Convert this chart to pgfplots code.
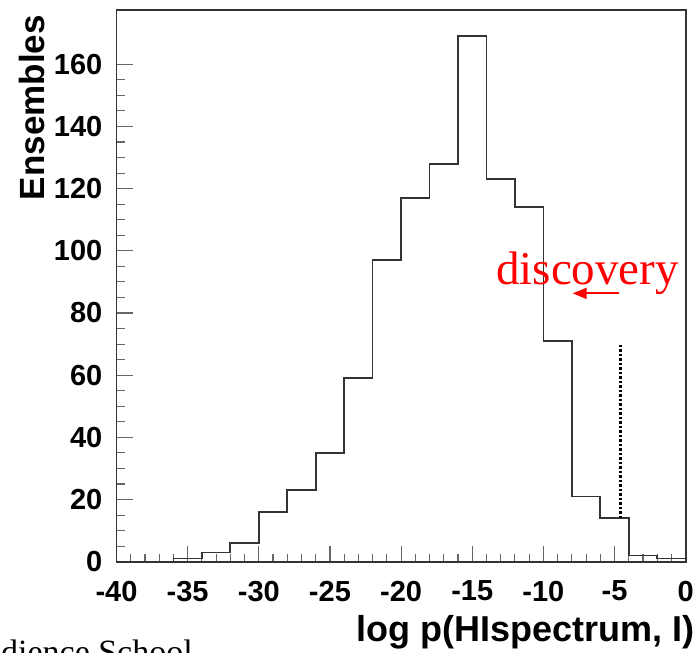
\documentclass[border=0pt]{standalone}
\usepackage{pgfplots}
\pgfplotsset{compat=1.18}
\usepackage{fontspec}
\setmainfont{Liberation Sans}
\newfontfamily\serif{Liberation Serif}
\usetikzlibrary{arrows.meta, calc}
\definecolor{frame}{HTML}{333333}

\begin{document}
\begin{tikzpicture}
\begin{axis}[
  name = ax,
  scale only axis,
  width = 569.2pt, height = 551.7pt,
  xmin = -40, xmax = 0,
  ymin = 0, ymax = 177.45,
  axis line style = {frame, line width=1.7pt},
  tick align = inside,
  xtick pos = bottom, ytick pos = left,
  xtick = {-40,-35,...,0},
  xticklabels = {-40,-35,-30,-25,-20,-15,-10,-5,0},
  ytick = {0,20,...,160},
  yticklabels = {0,20,40,60,80,100,120,140,160},
  minor x tick num = 4,
  minor y tick num = 3,
  major tick length = 16pt,
  minor tick length = 8pt,
  tick style = {gray!80!black, line width=1.1pt},
  ticklabel style = {font=\fontsize{29}{30}\selectfont\bfseries, inner sep=0pt},
  xticklabel style = {yshift=-19pt},
  yticklabel style = {xshift=-14pt},
  clip = false,
]
  % histogram, 2 units per bin, 1000 ensembles
  \addplot[const plot mark left, frame, line width=1.7pt] coordinates {
    (-40,0) (-38,0) (-36,1) (-34,3) (-32,6) (-30,16) (-28,23) (-26,35)
    (-24,59) (-22,97) (-20,117) (-18,128) (-16,169) (-14,123) (-12,114)
    (-10,71) (-8,21) (-6,14) (-4,2) (-2,1) (0,1)
  };
  % observed value
  \addplot[black, line width=3.2pt, dash pattern=on 2.5pt off 2pt]
    coordinates {(-4.57,14) (-4.57,70)};
  \draw[red, line width=2pt, -{Triangle[length=14pt,width=11pt]}]
    (axis cs:-4.69,86.3) -- (axis cs:-7.94,86.3);
  \node[red, anchor=base west, inner sep=0pt,
        font=\serif\fontsize{47}{48}\selectfont]
    at (axis cs:-13.33,89) {discovery};
\end{axis}
\node[rotate=90, anchor=east, inner sep=0pt,
      font=\fontsize{35}{36}\selectfont\bfseries]
  at ($(ax.north west)+(-85pt,-5pt)$) {Ensembles};
\node[anchor=base east, inner sep=0pt,
      font=\fontsize{36}{37}\selectfont\bfseries]
  at ($(ax.south east)+(9.3pt,-80pt)$) {log p(HIspectrum, I)};
\node[anchor=base east, inner sep=0pt,
      font=\serif\fontsize{34}{35}\selectfont]
  at ($(ax.south west)+(76.5pt,-102pt)$) {Audience School};
\pgfresetboundingbox
\path[use as bounding box] ($(ax.south west)+(-116.5pt,-90.3pt)$)
  rectangle ($(ax.north east)+(13.3pt,10pt)$);
\end{tikzpicture}
\end{document}
